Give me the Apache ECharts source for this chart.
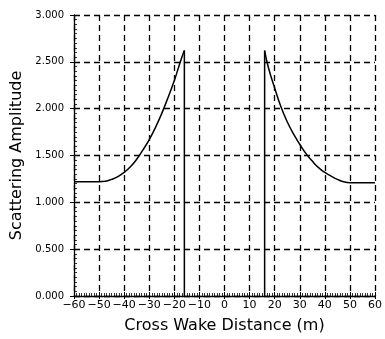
<!DOCTYPE html>
<html>
<head>
<meta charset="utf-8">
<script src="https://cdn.jsdelivr.net/npm/echarts@6/dist/echarts.min.js"></script>
<style>
  html, body { margin: 0; padding: 0; background: #fff; }
  #chart { width: 385px; height: 339px; }
</style>
</head>
<body>
<div id="chart"></div>
<script>
  // left wake edge curve
  var leftX = [-60, -55, -50, -47.5, -45, -42.5, -40, -37.5, -35, -32.5, -30, -27.5, -25, -22.5, -20, -17.5, -16];
  var leftY = [1.22, 1.22, 1.22, 1.225, 1.245, 1.275, 1.32, 1.38, 1.46, 1.56, 1.67, 1.80, 1.95, 2.12, 2.30, 2.51, 2.62];
  // right wake edge curve
  var rightX = [16, 17.5, 20, 22.5, 25, 27.5, 30, 32.5, 35, 37.5, 40, 42.5, 45, 47.5, 50, 55, 60];
  var rightY = [2.62, 2.44, 2.22, 2.02, 1.86, 1.73, 1.62, 1.52, 1.44, 1.37, 1.32, 1.28, 1.245, 1.22, 1.21, 1.21, 1.21];
  // vertical drops at the wake edges
  var dropLeftX = [-16, -16];
  var dropLeftY = [2.62, 0];
  var dropRightX = [16, 16];
  var dropRightY = [0, 2.62];

  function pairs(xs, ys) {
    var out = [];
    for (var i = 0; i < xs.length; i++) out.push([xs[i], ys[i]]);
    return out;
  }

  var font = 'DejaVu Sans';
  var dash = { color: '#000', width: 1.3, type: [6, 4] };

  var chart = echarts.init(document.getElementById('chart'));

  var lineSeries = function (data, smooth) {
    return {
      type: 'line',
      data: data,
      smooth: smooth,
      symbol: 'none',
      animation: false,
      lineStyle: { color: '#000', width: 1.5 }
    };
  };

  chart.setOption({
    backgroundColor: '#fff',
    grid: { left: 74, right: 7, top: 15, bottom: 36 },
    xAxis: [{
      type: 'value', min: -60, max: 60, interval: 10,
      name: 'Cross Wake Distance (m)', nameLocation: 'middle', nameGap: 22,
      nameTextStyle: { fontFamily: font, fontSize: 16, color: '#000' },
      axisLine: { onZero: false, lineStyle: { color: '#000', width: 1.3 } },
      axisTick: { show: true, inside: false, length: 3, lineStyle: { color: '#000' } },
      axisLabel: {
        fontFamily: font, fontSize: 11, color: '#000', margin: 4,
        formatter: function (v) { return v < 0 ? '\u2212' + (-v) : '' + v; }
      },
      splitLine: { show: true, lineStyle: dash }
    }, {
      type: 'value', min: -60, max: 60, interval: 10, position: 'bottom',
      axisLine: { show: false, onZero: false },
      axisTick: { show: true, inside: true, length: 4, lineStyle: { color: '#000' } },
      minorTick: { show: true, splitNumber: 10, length: 3, lineStyle: { color: '#000', width: 0.8 } },
      axisLabel: { show: false },
      splitLine: { show: false }
    }],
    yAxis: [{
      type: 'value', min: 0, max: 3, interval: 0.5,
      name: 'Scattering Amplitude', nameLocation: 'middle', nameGap: 48, nameRotate: 90,
      nameTextStyle: { fontFamily: font, fontSize: 16, color: '#000' },
      axisLine: { onZero: false, lineStyle: { color: '#000', width: 1.3 } },
      axisTick: { show: true, inside: false, length: 4, lineStyle: { color: '#000' } },
      axisLabel: {
        fontFamily: font, fontSize: 10, color: '#000', margin: 10,
        formatter: function (v) { return v.toFixed(3); }
      },
      splitLine: { show: true, lineStyle: dash }
    }, {
      type: 'value', min: 0, max: 3, interval: 0.5, position: 'left',
      axisLine: { show: false, onZero: false },
      axisTick: { show: true, inside: true, length: 4, lineStyle: { color: '#000' } },
      minorTick: { show: true, splitNumber: 10, length: 3, lineStyle: { color: '#000', width: 0.8 } },
      axisLabel: { show: false },
      splitLine: { show: false }
    }],
    series: [
      lineSeries(pairs(leftX, leftY), 0.5),
      lineSeries(pairs(dropLeftX, dropLeftY), false),
      lineSeries(pairs(dropRightX, dropRightY), false),
      lineSeries(pairs(rightX, rightY), 0.5)
    ]
  });
</script>
</body>
</html>
